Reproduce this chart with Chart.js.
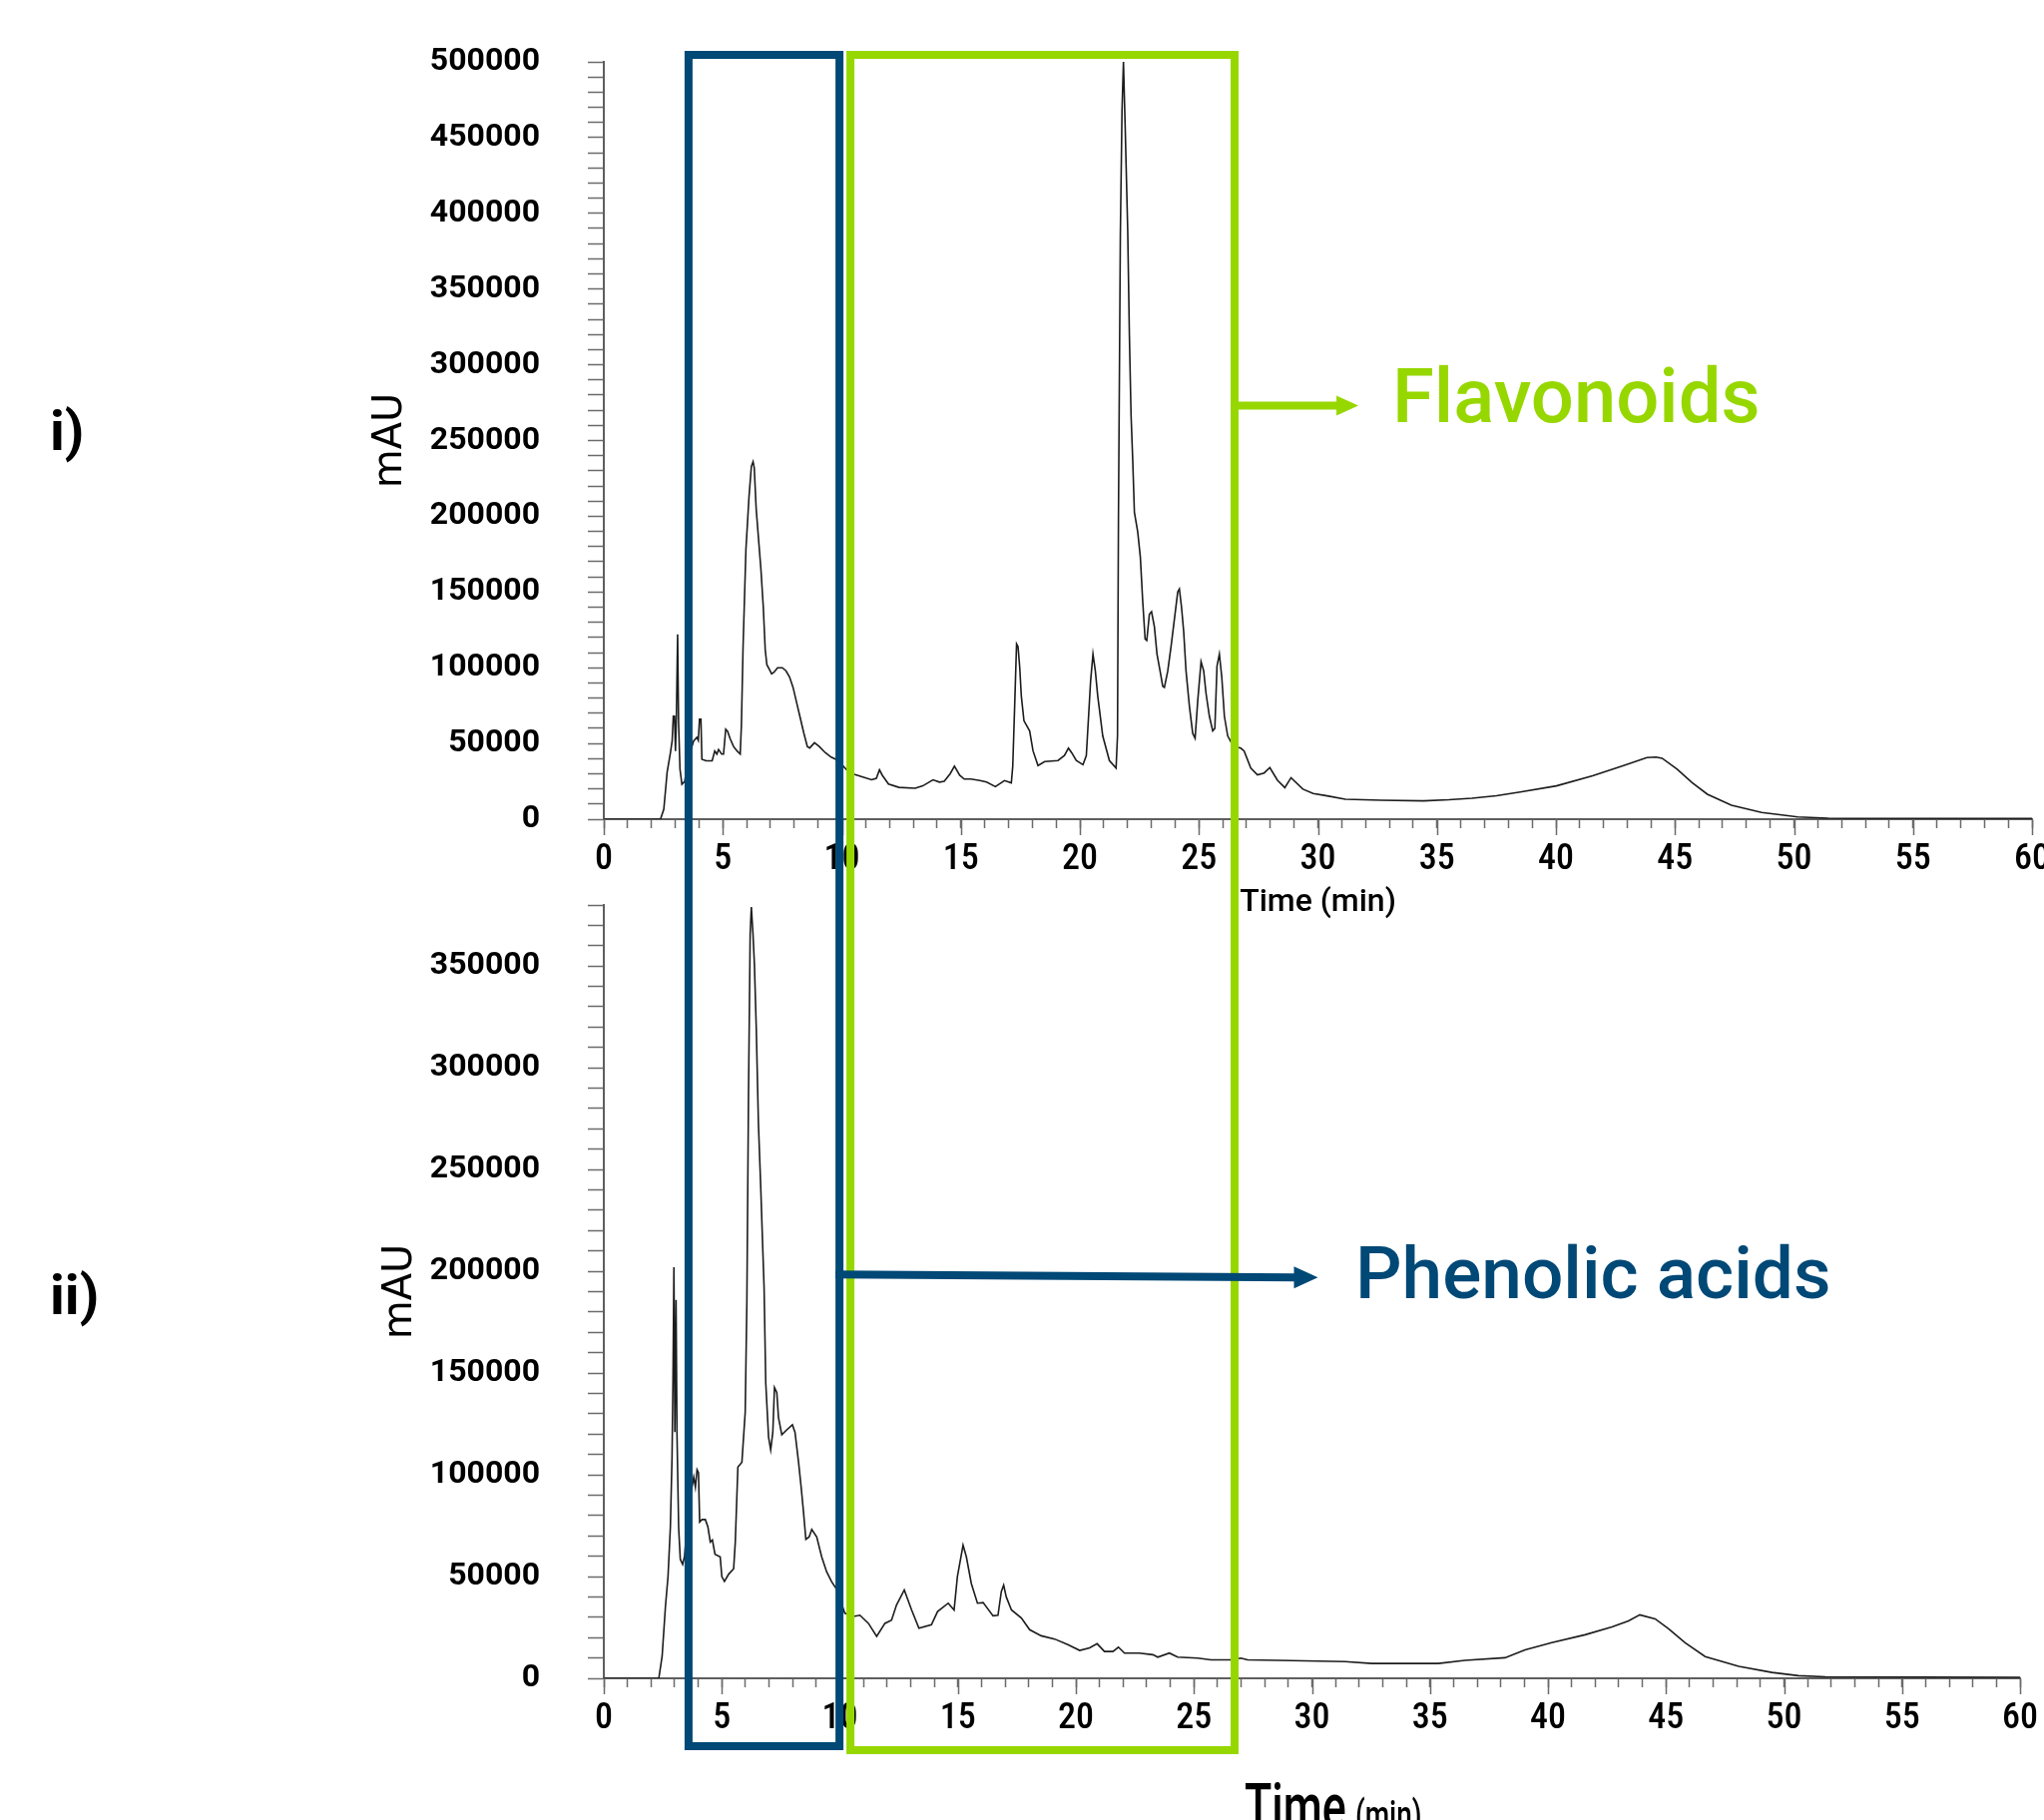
<!DOCTYPE html>
<html>
<head>
<meta charset="utf-8">
<script src="https://cdn.jsdelivr.net/npm/chart.js@4.4.1/dist/chart.umd.min.js"></script>
<style>
html,body{margin:0;padding:0;background:#fff;width:2048px;height:1824px;overflow:hidden;}
canvas{position:absolute;left:0;top:0;}
.t{position:absolute;white-space:nowrap;line-height:1;font-family:Roboto,'DejaVu Sans',sans-serif;}
</style>
</head>
<body>
<canvas id="c1" width="2048" height="1824"></canvas>
<canvas id="c2" width="2048" height="1824"></canvas>
<canvas id="ov" width="2048" height="1824"></canvas>
<div class="t" style="left:50px;top:404px;font-size:56px;font-weight:700;color:#000;">i)</div>
<div class="t" style="left:50px;top:1270px;font-size:56px;font-weight:700;color:#000;">ii)</div>
<div class="t" style="left:1395px;top:359px;font-size:76px;font-weight:500;color:#97D700;">Flavonoids</div>
<div class="t" style="left:1358px;top:1240px;font-size:73px;font-weight:500;color:#004876;">Phenolic acids</div>
<div class="t" style="left:1247px;top:1780px;font-size:64px;font-weight:500;color:#000;transform:scaleX(0.7);transform-origin:0 0;">Time</div>
<div class="t" style="left:1358px;top:1800px;font-size:40px;font-weight:500;color:#000;transform:scaleX(0.7);transform-origin:0 0;">(min)</div>
<script>
// ---------- data: chromatogram i) ----------
const timesI = [0,2.38,2.52,2.66,2.80,2.87,2.92,2.97,3.01,3.05,3.10,3.14,3.20,3.28,3.40,3.55,3.77,3.91,3.97,4.02,4.08,4.12,4.30,4.55,4.66,4.75,4.82,4.95,5.03,5.12,5.20,5.31,5.45,5.60,5.73,5.78,5.85,5.97,6.10,6.20,6.27,6.32,6.40,6.50,6.60,6.70,6.78,6.85,6.95,7.05,7.15,7.30,7.50,7.65,7.80,7.95,8.10,8.25,8.40,8.55,8.65,8.85,9.05,9.30,9.55,9.75,10.00,10.30,10.55,10.85,11.25,11.45,11.58,11.70,11.96,12.40,13.08,13.40,13.83,14.10,14.30,14.55,14.73,14.95,15.14,15.42,15.80,16.08,16.45,16.83,17.12,17.18,17.26,17.34,17.40,17.47,17.54,17.65,17.89,18.03,18.24,18.52,19.08,19.35,19.52,19.65,19.85,20.13,20.27,20.45,20.55,20.65,20.75,20.96,21.24,21.52,21.58,21.62,21.70,21.77,21.83,21.90,22.01,22.08,22.15,22.22,22.29,22.43,22.54,22.64,22.74,22.81,22.92,23.01,23.13,23.24,23.37,23.48,23.55,23.69,23.83,23.97,24.11,24.18,24.27,24.36,24.46,24.60,24.74,24.84,24.95,25.09,25.20,25.30,25.44,25.58,25.67,25.76,25.86,25.96,26.07,26.21,26.45,26.76,26.90,27.18,27.46,27.74,27.98,28.30,28.61,28.87,29.37,29.80,30.39,31.15,32.66,34.44,35.50,36.47,37.50,38.50,40.02,41.54,42.81,43.82,44.20,44.46,45.09,45.72,46.36,47.37,48.64,50.16,51.43,52.50,60];
const mauI = [0,0,6600,31000,44000,51600,68000,68000,45000,68000,122000,64000,33000,23000,25000,40000,51600,54000,52000,66000,66000,39600,38500,38500,45000,43000,46000,43000,43000,59400,58000,53000,48000,45000,43000,62000,114000,178000,213000,233000,236000,232000,205000,185000,165000,140000,112000,102000,99000,96000,97000,100000,100000,98000,94000,87000,77000,67000,57000,48000,47000,50500,48000,44000,41000,39500,36000,31000,29500,28000,26000,27000,32600,29000,23200,21000,20400,22000,26000,24500,25000,30000,35000,29000,26500,26500,25500,24500,21500,25500,24000,35000,74700,115800,114000,101000,81300,65000,58300,45200,35400,38000,38700,42000,46900,44000,38700,36000,41900,91200,109000,97700,81300,55000,38700,33700,55000,199000,386000,468000,500000,458700,388000,319000,266700,237000,202700,189600,173000,143800,119000,118000,135400,137000,127000,109000,97700,87800,87000,97700,114000,132000,150000,152000,140000,124000,97700,74700,56700,53400,78000,104000,98000,83000,68000,58300,60000,101000,109000,94000,68000,55000,48000,46900,45000,33700,29300,30500,34100,25700,20800,27400,19800,17000,15400,13200,12500,12100,12800,13800,15500,18000,22000,28600,35200,40700,41000,40200,33000,24200,16500,9200,4400,1500,700,500,500];

// ---------- data: chromatogram ii) ----------
const timesII = [0,2.33,2.47,2.61,2.72,2.82,2.89,2.93,2.97,3.01,3.06,3.10,3.17,3.24,3.34,3.42,3.60,3.81,3.88,3.95,4.01,4.06,4.16,4.30,4.41,4.51,4.60,4.71,4.93,5.00,5.11,5.29,5.50,5.57,5.68,5.85,5.92,5.99,6.06,6.13,6.20,6.25,6.32,6.38,6.46,6.55,6.65,6.72,6.79,6.86,6.98,7.07,7.16,7.23,7.33,7.40,7.54,7.75,7.99,8.10,8.25,8.36,8.46,8.56,8.70,8.81,9.02,9.23,9.44,9.65,9.86,10.21,10.64,10.85,11.21,11.56,11.91,12.19,12.40,12.73,13.04,13.35,13.88,14.14,14.59,14.84,14.98,15.22,15.36,15.57,15.83,16.07,16.49,16.70,16.84,16.94,17.05,17.27,17.69,18.04,18.53,19.10,19.66,20.16,20.58,20.90,21.21,21.57,21.80,22.06,22.69,23.26,23.47,23.96,24.31,25.16,25.72,26.57,26.99,27.27,28.54,31.40,32.53,35.36,36.49,38.18,39.03,40.16,41.57,42.71,43.41,43.89,44.54,45.11,45.81,46.66,48.08,49.49,50.61,51.75,60];
const mauII = [0,0,10800,35200,50000,74400,108700,146600,202000,121000,186000,120000,74000,58500,56000,60000,85000,98900,94000,102500,101000,76800,78000,78000,74400,67000,68000,61000,59700,50000,47600,51200,53800,67000,103800,106200,118500,130700,184500,287300,365600,379000,365600,351000,319000,272600,240800,216000,191900,145400,118500,112300,120900,142900,140400,128200,119700,122100,124600,120900,106200,94000,81700,68300,69500,73200,69500,59700,52400,47500,43800,32000,30500,31000,27000,20600,27000,28600,36000,43400,33600,24600,26300,32800,36900,33600,49900,65400,59700,46600,36900,37200,30700,31000,42600,45800,40000,33600,29600,23900,20900,19300,16500,13700,15000,17000,13200,13200,15300,12400,12400,11600,10400,12400,10400,9900,9100,9100,9900,9100,8800,8200,7300,7300,8800,10100,14000,17500,21400,25300,28200,31200,29200,24300,17500,10700,5900,2900,1300,700,500];

// ---------- axes ----------
const X_MIN = 0, X_MAX = 60, X_MINOR_STEP = 1, X_LABEL_STEP = 5;
const Y_MAX_I = 500000, Y_MAX_II = 380000, Y_MINOR_STEP = 10000, Y_LABEL_STEP = 50000;
const X_TITLE_I = 'Time (min)';
const Y_TITLE = 'mAU';

// ---------- highlighted regions (minutes) ----------
const phenolicRegion = [3.56, 9.9];
const flavonoidRegion = [10.36, 26.5];
const flavArrow = {fromRegionEnd: true, tipTime: 31.7, level: 273000};
const phenArrow = {tipTime: 30.0, level: 197500};

const BLUE = '#004876';
const GREEN = '#97D700';
const TICK_COLOR = '#6b6b6b';
const TRACE_COLOR = '#1c1c1c';

function stepTicks(min, max, step) {
  const out = [];
  for (let v = min; v <= max + 1e-9; v += step) out.push({value: Math.round(v * 1000) / 1000});
  return out;
}

const majorTickPlugin = {
  id: 'majorTicks',
  afterDraw(chart) {
    const xs = chart.scales.x;
    const ctx = chart.ctx;
    const y0 = chart.chartArea.bottom;
    ctx.save();
    ctx.strokeStyle = TICK_COLOR;
    ctx.lineWidth = 1.5;
    for (let t = X_MIN; t <= X_MAX; t += X_LABEL_STEP) {
      const px = Math.round(xs.getPixelForValue(t)) + 0.5;
      ctx.beginPath();
      ctx.moveTo(px, y0);
      ctx.lineTo(px, y0 + 16);
      ctx.stroke();
    }
    ctx.restore();
  }
};

function makeChart(canvasId, times, values, yMax, cfg) {
  const data = times.map((t, i) => ({x: t, y: values[i]}));
  return new Chart(document.getElementById(canvasId), {
    type: 'line',
    data: {datasets: [{data, borderColor: TRACE_COLOR, borderWidth: 1.6, pointRadius: 0, tension: 0, fill: false}]},
    plugins: [majorTickPlugin],
    options: {
      responsive: false,
      animation: false,
      events: [],
      layout: {autoPadding: false, padding: cfg.padding},
      plugins: {legend: {display: false}, tooltip: {enabled: false}},
      scales: {
        x: {
          type: 'linear', min: X_MIN, max: X_MAX,
          afterBuildTicks: (s) => { s.ticks = stepTicks(X_MIN, X_MAX, X_MINOR_STEP); },
          afterFit: (s) => { s.height = cfg.xHeight; s.paddingLeft = 0; s.paddingRight = 0; },
          grid: {drawOnChartArea: false, drawTicks: true, tickLength: 9, tickColor: TICK_COLOR, tickWidth: 1.5},
          border: {display: true, color: '#5e5e5e', width: 2},
          ticks: {
            autoSkip: false, maxRotation: 0, minRotation: 0, padding: 10, color: '#000',
            font: {family: "'Liberation Sans Narrow', 'Roboto Condensed', 'DejaVu Sans Condensed', Roboto, sans-serif", size: 36, weight: '500'},
            callback: (v) => (Math.abs(v % X_LABEL_STEP) < 1e-9 ? String(v) : '')
          },
          title: cfg.xTitle ? {display: true, text: cfg.xTitle, color: '#000',
            font: {family: "Roboto, sans-serif", size: 32, weight: '500'}, padding: {top: 0, bottom: 17}} : {display: false}
        },
        y: {
          type: 'linear', min: 0, max: yMax,
          afterBuildTicks: (s) => { s.ticks = stepTicks(0, yMax, Y_MINOR_STEP); },
          afterFit: (s) => { s.width = 605; s.paddingTop = 0; s.paddingBottom = 0; },
          grid: {drawOnChartArea: false, drawTicks: true, tickLength: 16, tickColor: TICK_COLOR, tickWidth: 1.5},
          border: {display: true, color: '#5e5e5e', width: 2},
          ticks: {
            autoSkip: false, padding: 48, color: '#000',
            font: {family: "Roboto, sans-serif", size: 32, weight: 'bold'},
            callback: (v) => (v % Y_LABEL_STEP === 0 ? String(v) : '')
          },
          title: {display: true, text: Y_TITLE, color: '#000',
            font: {family: "'DejaVu Sans', sans-serif", size: 40, weight: 'normal'},
            padding: {top: cfg.yTitleOffset, bottom: 0}}
        }
      }
    }
  });
}

const chartI = makeChart('c1', timesI, mauI, Y_MAX_I, {
  padding: {top: 62, right: 12, bottom: 883, left: 0}, xHeight: 120, xTitle: X_TITLE_I, yTitleOffset: 368
});
const chartII = makeChart('c2', timesII, mauII, Y_MAX_II, {
  padding: {top: 907, right: 24, bottom: 22, left: 0}, xHeight: 120, xTitle: null, yTitleOffset: 378
});

function arrow(ctx, x0, y0, x1, y1, color, headLen, headHalf) {
  ctx.save();
  ctx.strokeStyle = color; ctx.fillStyle = color; ctx.lineWidth = 8;
  ctx.beginPath(); ctx.moveTo(x0, y0); ctx.lineTo(x1 - headLen + 2, y1); ctx.stroke();
  ctx.beginPath(); ctx.moveTo(x1, y1); ctx.lineTo(x1 - headLen, y1 - headHalf); ctx.lineTo(x1 - headLen, y1 + headHalf); ctx.closePath(); ctx.fill();
  ctx.restore();
}

function drawOverlay() {
  const ctx = document.getElementById('ov').getContext('2d');
  const xs = chartI.scales.x;
  const top = chartI.chartArea.top - 7;
  const bottom = chartII.chartArea.bottom + 72;
  ctx.lineWidth = 8;
  const bx0 = xs.getPixelForValue(phenolicRegion[0]), bx1 = xs.getPixelForValue(phenolicRegion[1]);
  const gx0 = xs.getPixelForValue(flavonoidRegion[0]), gx1 = xs.getPixelForValue(flavonoidRegion[1]);
  ctx.strokeStyle = BLUE;
  ctx.strokeRect(bx0, top, bx1 - bx0, bottom - top - 4);
  ctx.strokeStyle = GREEN;
  ctx.strokeRect(gx0, top, gx1 - gx0, bottom - top);
  // flavonoid arrow
  const fy = chartI.scales.y.getPixelForValue(flavArrow.level);
  arrow(ctx, gx1 + 4, fy, xs.getPixelForValue(flavArrow.tipTime), fy, GREEN, 22, 10);
  // phenolic acid arrow
  const py = chartII.scales.y.getPixelForValue(phenArrow.level);
  arrow(ctx, bx1 - 4, py - 2, xs.getPixelForValue(phenArrow.tipTime), py + 1, BLUE, 24, 11);
}
drawOverlay();
</script>
</body>
</html>
